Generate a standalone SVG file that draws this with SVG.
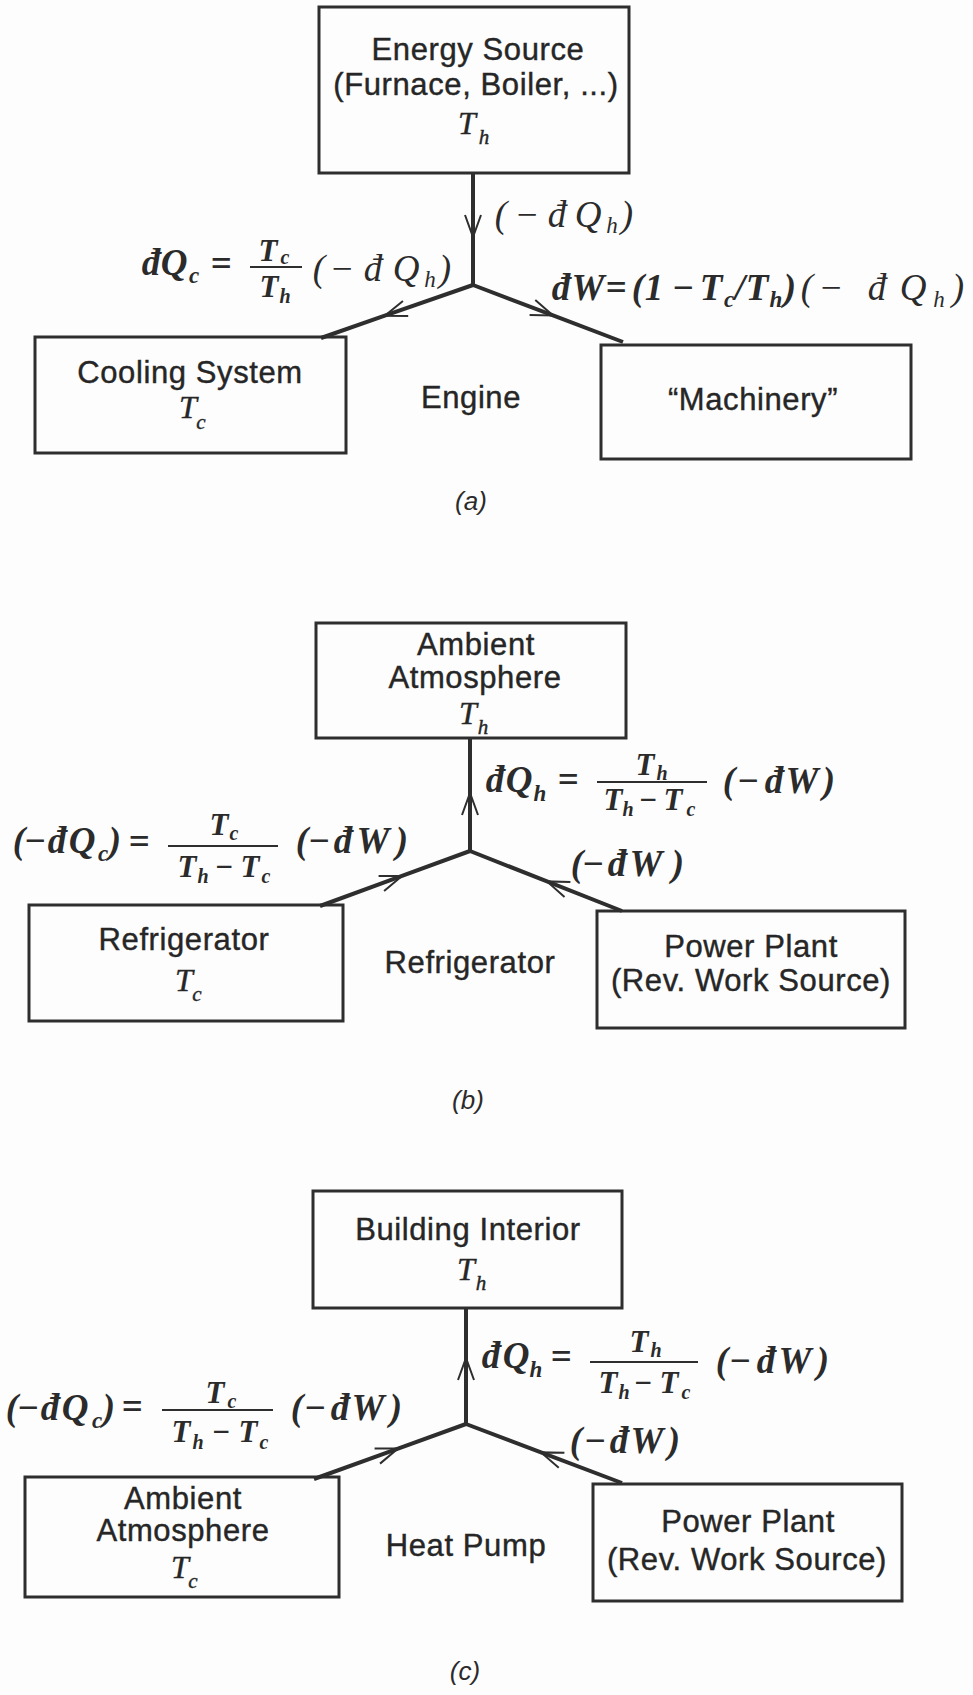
<svg xmlns="http://www.w3.org/2000/svg" width="973" height="1695" viewBox="0 0 973 1695">
<style>
.box{fill:none;stroke:#2e2e2e;stroke-width:3}
.t{font-family:"Liberation Sans",Arial,sans-serif;font-size:31px;letter-spacing:0.6px;fill:#262626;stroke:#262626;stroke-width:0.4;text-anchor:middle}
.v{font-family:"Liberation Serif","Times New Roman",serif;font-style:italic;font-size:32px;fill:#262626;stroke:#262626;stroke-width:0.4;text-anchor:middle}
.vs{font-size:21px}
.m{font-family:"Liberation Serif","Times New Roman",serif;font-style:italic;font-weight:bold;font-size:37px;fill:#2b2b2b;text-anchor:middle}
.mn{font-weight:normal}
.s{font-size:23px}
.f{font-size:31px}
.fs{font-size:20px}
.cap{font-family:"Liberation Sans",Arial,sans-serif;font-style:italic;font-size:26px;fill:#2b2b2b;text-anchor:middle}
.conn{fill:none;stroke:#2e2e2e;stroke-width:4;marker-mid:url(#arr)}
.bar{stroke:#2e2e2e;stroke-width:2}
</style>
<defs>
<marker id="arr" markerUnits="userSpaceOnUse" orient="auto" viewBox="-25 -12 30 24" markerWidth="30" markerHeight="24" refX="0" refY="0" overflow="visible">
<path d="M-22,-8 L0,0 L-22,8" fill="none" stroke="#2e2e2e" stroke-width="2"/>
</marker>
</defs>
<rect x="0" y="0" width="973" height="1695" fill="#fdfdfd"/>

<g id="connectors">
<path class="conn" d="M473,173 L473,237 L473,285"/>
<path class="conn" d="M473,285 L384.8,315.7 L321,338"/>
<path class="conn" d="M473,285 L553,315.4 L623,342"/>
<path class="conn" d="M470,851 L470,793 L470,738"/>
<path class="conn" d="M320,906 L402,875.9 L470,851"/>
<path class="conn" d="M622,911 L547,881.4 L470,851"/>
<path class="conn" d="M466,1424 L466,1358 L466,1308"/>
<path class="conn" d="M314,1479 L398,1448.6 L466,1424"/>
<path class="conn" d="M622,1483 L541,1452.4 L466,1424"/>
</g>

<!-- (a) -->
<g id="energy-source">
<rect class="box" x="319" y="7" width="310" height="166"/>
<text class="t" x="478" y="60">Energy Source</text>
<text class="t" x="476" y="95">(Furnace, Boiler, ...)</text>
<text class="v"><tspan x="467" y="134">T</tspan><tspan class="vs" x="484" y="144">h</tspan></text>
</g>
<g id="cooling-system">
<rect class="box" x="35" y="337" width="311" height="116"/>
<text class="t" x="190" y="383">Cooling System</text>
<text class="v"><tspan x="188" y="418">T</tspan><tspan class="vs" x="201" y="429">c</tspan></text>
</g>
<g id="engine">
<text class="t" x="471" y="408">Engine</text>
</g>
<g id="machinery">
<rect class="box" x="601" y="345" width="310" height="114"/>
<text class="t" x="753" y="410">“Machinery”</text>
</g>
<g id="labels-a">
<text class="m mn"><tspan x="501" y="227">(</tspan><tspan x="527" y="227">−</tspan><tspan x="557" y="227">đ</tspan><tspan x="588" y="227">Q</tspan><tspan class="s" x="612" y="233">h</tspan><tspan x="627" y="227">)</tspan></text>
<text class="m"><tspan x="151" y="275">đ</tspan><tspan x="174" y="275">Q</tspan><tspan class="s" x="194" y="283">c</tspan><tspan x="221" y="276">=</tspan><tspan class="f" x="268" y="261">T</tspan><tspan class="fs" x="285" y="264">c</tspan><tspan class="f" x="269" y="297">T</tspan><tspan class="fs" x="285" y="303">h</tspan></text>
<line class="bar" x1="250" y1="267" x2="302" y2="267"/>
<text class="m mn"><tspan x="319" y="281">(</tspan><tspan x="342" y="281">−</tspan><tspan x="373" y="281">đ</tspan><tspan x="406" y="281">Q</tspan><tspan class="s" x="430" y="287">h</tspan><tspan x="445" y="281">)</tspan></text>
<text class="m"><tspan x="561" y="300">đ</tspan><tspan x="588" y="300">W</tspan><tspan x="616" y="300">=</tspan><tspan x="638" y="300">(</tspan><tspan x="654" y="300">1</tspan><tspan x="683" y="300">−</tspan><tspan x="711" y="300">T</tspan><tspan class="s" x="729" y="307">c</tspan><tspan x="740" y="300">/</tspan><tspan x="757" y="300">T</tspan><tspan class="s" x="776" y="307">h</tspan><tspan x="790" y="300">)</tspan></text>
<text class="m mn"><tspan x="807" y="300">(</tspan><tspan x="831" y="300">−</tspan><tspan x="877" y="300">đ</tspan><tspan x="913" y="300">Q</tspan><tspan class="s" x="939" y="307">h</tspan><tspan x="958" y="300">)</tspan></text>
<text class="cap" x="471" y="510">(a)</text>
</g>

<!-- (b) -->
<g id="ambient-atmosphere-b">
<rect class="box" x="316" y="623" width="310" height="115"/>
<text class="t" x="476" y="655">Ambient</text>
<text class="t" x="475" y="688">Atmosphere</text>
<text class="v"><tspan x="468" y="724">T</tspan><tspan class="vs" x="483" y="734">h</tspan></text>
</g>
<g id="refrigerator-box">
<rect class="box" x="29" y="905" width="314" height="116"/>
<text class="t" x="184" y="950">Refrigerator</text>
<text class="v"><tspan x="184" y="991">T</tspan><tspan class="vs" x="197" y="1001">c</tspan></text>
</g>
<g id="refrigerator">
<text class="t" x="470" y="973">Refrigerator</text>
</g>
<g id="power-plant-b">
<rect class="box" x="597" y="911" width="308" height="117"/>
<text class="t" x="751" y="957">Power Plant</text>
<text class="t" x="751" y="991">(Rev. Work Source)</text>
</g>
<g id="labels-b">
<text class="m"><tspan x="495" y="792">đ</tspan><tspan x="519" y="792">Q</tspan><tspan class="s" x="540" y="801">h</tspan><tspan x="568" y="792">=</tspan><tspan class="f" x="645" y="775">T</tspan><tspan class="fs" x="662" y="780">h</tspan><tspan class="f" x="613" y="810">T</tspan><tspan class="fs" x="628" y="816">h</tspan><tspan class="f" x="648" y="810">−</tspan><tspan class="f" x="673" y="810">T</tspan><tspan class="fs" x="691" y="816">c</tspan><tspan x="729" y="793">(</tspan><tspan x="748" y="793">−</tspan><tspan x="774" y="793">đ</tspan><tspan x="802" y="793">W</tspan><tspan x="829" y="793">)</tspan></text>
<line class="bar" x1="597" y1="782" x2="707" y2="782"/>
<text class="m"><tspan x="577" y="876">(</tspan><tspan x="593" y="876">−</tspan><tspan x="617" y="876">đ</tspan><tspan x="646" y="876">W</tspan><tspan x="678" y="876">)</tspan></text>
<text class="m"><tspan x="19" y="853">(</tspan><tspan x="35" y="853">−</tspan><tspan x="57" y="853">đ</tspan><tspan x="82" y="853">Q</tspan><tspan class="s" x="103" y="861">c</tspan><tspan x="115" y="853">)</tspan><tspan x="139" y="854">=</tspan><tspan class="f" x="219" y="835">T</tspan><tspan class="fs" x="234" y="840">c</tspan><tspan class="f" x="187" y="877">T</tspan><tspan class="fs" x="203" y="883">h</tspan><tspan class="f" x="224" y="877">−</tspan><tspan class="f" x="250" y="877">T</tspan><tspan class="fs" x="266" y="883">c</tspan><tspan x="302" y="853">(</tspan><tspan x="319" y="853">−</tspan><tspan x="343" y="853">đ</tspan><tspan x="373" y="853">W</tspan><tspan x="402" y="853">)</tspan></text>
<line class="bar" x1="168" y1="846" x2="278" y2="846"/>
<text class="cap" x="468" y="1109">(b)</text>
</g>

<!-- (c) -->
<g id="building-interior">
<rect class="box" x="313" y="1191" width="309" height="117"/>
<text class="t" x="468" y="1240">Building Interior</text>
<text class="v"><tspan x="466" y="1280">T</tspan><tspan class="vs" x="481" y="1290">h</tspan></text>
</g>
<g id="ambient-atmosphere-c">
<rect class="box" x="25" y="1477" width="314" height="120"/>
<text class="t" x="183" y="1509">Ambient</text>
<text class="t" x="183" y="1541">Atmosphere</text>
<text class="v"><tspan x="180" y="1578">T</tspan><tspan class="vs" x="193" y="1588">c</tspan></text>
</g>
<g id="heat-pump">
<text class="t" x="466" y="1556">Heat Pump</text>
</g>
<g id="power-plant-c">
<rect class="box" x="593" y="1484" width="309" height="117"/>
<text class="t" x="748" y="1532">Power Plant</text>
<text class="t" x="747" y="1570">(Rev. Work Source)</text>
</g>
<g id="labels-c">
<text class="m"><tspan x="491" y="1368">đ</tspan><tspan x="516" y="1368">Q</tspan><tspan class="s" x="536" y="1377">h</tspan><tspan x="561" y="1369">=</tspan><tspan class="f" x="639" y="1352">T</tspan><tspan class="fs" x="656" y="1357">h</tspan><tspan class="f" x="608" y="1393">T</tspan><tspan class="fs" x="624" y="1399">h</tspan><tspan class="f" x="643" y="1393">−</tspan><tspan class="f" x="669" y="1393">T</tspan><tspan class="fs" x="686" y="1399">c</tspan><tspan x="722" y="1373">(</tspan><tspan x="740" y="1373">−</tspan><tspan x="766" y="1373">đ</tspan><tspan x="795" y="1373">W</tspan><tspan x="823" y="1373">)</tspan></text>
<line class="bar" x1="590" y1="1362" x2="698" y2="1362"/>
<text class="m"><tspan x="576" y="1453">(</tspan><tspan x="595" y="1453">−</tspan><tspan x="619" y="1453">đ</tspan><tspan x="647" y="1453">W</tspan><tspan x="674" y="1453">)</tspan></text>
<text class="m"><tspan x="12" y="1420">(</tspan><tspan x="28" y="1420">−</tspan><tspan x="50" y="1420">đ</tspan><tspan x="75" y="1420">Q</tspan><tspan class="s" x="97" y="1428">c</tspan><tspan x="109" y="1420">)</tspan><tspan x="132" y="1419">=</tspan><tspan class="f" x="215" y="1403">T</tspan><tspan class="fs" x="232" y="1408">c</tspan><tspan class="f" x="181" y="1442">T</tspan><tspan class="fs" x="198" y="1449">h</tspan><tspan class="f" x="221" y="1442">−</tspan><tspan class="f" x="248" y="1442">T</tspan><tspan class="fs" x="264" y="1449">c</tspan><tspan x="297" y="1420">(</tspan><tspan x="315" y="1420">−</tspan><tspan x="340" y="1420">đ</tspan><tspan x="368" y="1420">W</tspan><tspan x="396" y="1420">)</tspan></text>
<line class="bar" x1="162" y1="1410" x2="273" y2="1410"/>
<text class="cap" x="465" y="1680">(c)</text>
</g>
</svg>
